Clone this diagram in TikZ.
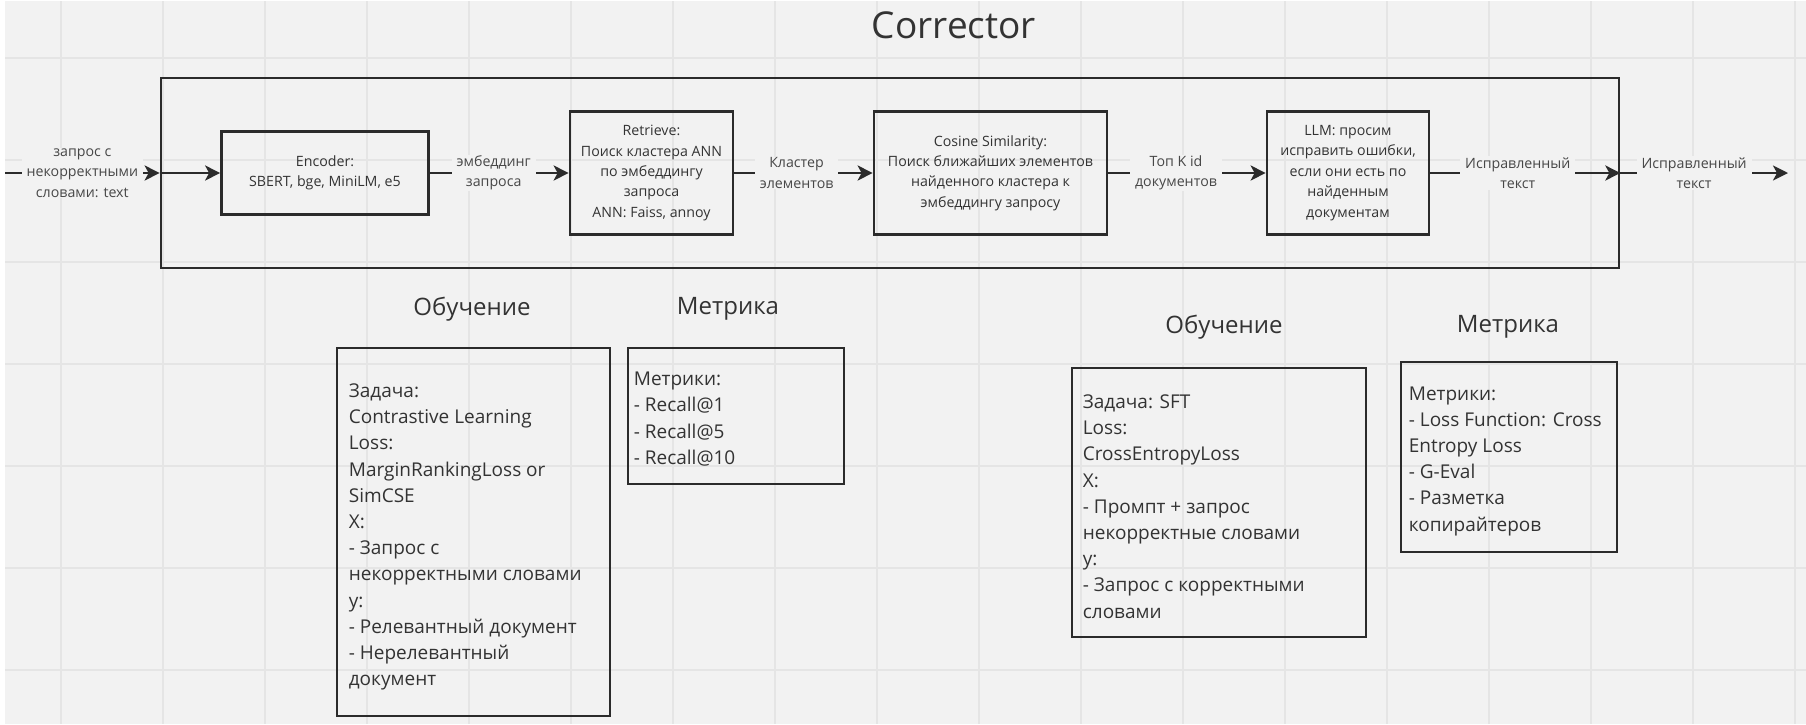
\documentclass[tikz,border=0pt]{standalone}
\usepackage{fontspec}
\setmainfont{Open Sans}
\usetikzlibrary{arrows.meta}
\definecolor{bg}{HTML}{F2F2F2}
\definecolor{gridc}{HTML}{E5E5E5}
\definecolor{ink}{HTML}{2B2B2B}
\definecolor{txt}{HTML}{333333}
\definecolor{lbltxt}{HTML}{474747}
\tikzset{
  pbox/.style={draw=ink, line width=2.7pt, inner sep=0pt, text=txt, align=center,
    font=\fontsize{14.2}{20.4}\selectfont},
  sbox/.style={draw=ink, line width=2.7pt, inner sep=0pt},
  btxt/.style={anchor=west, inner sep=0pt, text=txt, align=left,
    font=\fontsize{19}{26.2}\selectfont},
  ttl/.style={text=txt, inner sep=0pt, font=\fontsize{24}{28}\selectfont},
  arr/.style={draw=ink, line width=2.7pt, -{Stealth[length=15pt,width=15pt,inset=4pt]}},
  lbl/.style={fill=bg, text=lbltxt, align=center, inner xsep=5pt, inner ysep=1pt,
    font=\fontsize{14.2}{20.4}\selectfont}
}
\begin{document}
\begin{tikzpicture}[x=1pt,y=-1pt]
\useasboundingbox (0,0) rectangle (1806,724);
\fill[white] (0,0) rectangle (1806,724);
\fill[bg] (5,1) rectangle (1806,724);
\foreach \gx in {61,163,...,1800} \draw[gridc, line width=1.5pt] (\gx,1) -- (\gx,724);
\foreach \gy in {58,160,...,724} \draw[gridc, line width=1.5pt] (5,\gy) -- (1806,\gy);

% title
\node[text=txt, inner sep=0pt, font=\fontsize{37}{42}\selectfont] (title) at (954,25) {Corrector};

% main frame
\node[sbox, minimum width=1458pt, minimum height=190pt] (main) at (890,173) {};

% pipeline boxes
\node[pbox, minimum width=207pt, minimum height=83pt] (enc) at (325,173) {Encoder:\\SBERT, bge, MiniLM, e5};
\node[pbox, minimum width=163pt, minimum height=123pt] (ret) at (651.5,173) {Retrieve:\\Поиск кластера ANN\\по эмбеддингу\\запроса\\ANN: Faiss, annoy};
\node[pbox, minimum width=233pt, minimum height=123pt] (cos) at (990.5,173) {Cosine Similarity:\\Поиск ближайших элементов\\найденного кластера к\\эмбеддингу запросу};
\node[pbox, minimum width=162pt, minimum height=123pt] (llm) at (1348,173) {LLM: просим\\исправить ошибки,\\если они есть по\\найденным\\документам};

% connectors
\coordinate (in) at (5,173);
\coordinate (out) at (1788,173);
\draw[arr] (in) -- node[lbl, pos=0.5] {запрос с\\некорректными\\словами: text} (main.west);
\draw[arr] (main.west) -- (enc.west);
\draw[arr] (enc.east) -- node[lbl, pos=0.46] {эмбеддинг\\запроса} (ret.west);
\draw[arr] (ret.east) -- node[lbl, pos=0.45] {Кластер\\элементов} (cos.west);
\draw[arr] (cos.east) -- node[lbl, pos=0.43] {Топ K id\\документов} (llm.west);
\draw[arr] (llm.east) -- node[lbl, pos=0.46] {Исправленный\\текст} (main.east);
\draw[arr] (main.east) -- node[lbl, pos=0.44] {Исправленный\\текст} (out);

% bottom section titles
\node[ttl] (tr1) at (472,309) {Обучение};
\node[ttl] (tm1) at (728,309) {Метрика};
\node[ttl] (tr2) at (1224,327) {Обучение};
\node[ttl] (tm2) at (1508,327) {Метрика};

% bottom boxes
\node[sbox, minimum width=273pt, minimum height=368pt] (b1) at (473.5,532) {};
\node[btxt] (t1) at ([xshift=13pt,yshift=-5pt]b1.west) {Задача:\\Contrastive Learning\\Loss:\\MarginRankingLoss or\\SimCSE\\X:\\- Запрос с\\некорректными словами\\y:\\- Релевантный документ\\- Нерелевантный\\документ};

\node[sbox, minimum width=216pt, minimum height=136pt] (b2) at (736,416) {};
\node[btxt] (t2) at ([xshift=7pt,yshift=-3pt]b2.west) {Метрики:\\- Recall@1\\- Recall@5\\- Recall@10};

\node[sbox, minimum width=294pt, minimum height=269pt] (b3) at (1219,502.5) {};
\node[btxt] (t3) at ([xshift=12pt,yshift=-4pt]b3.west) {Задача: SFT\\Loss:\\CrossEntropyLoss\\X:\\- Промпт + запрос\\некорректные словами\\y:\\- Запрос с корректными\\словами};

\node[sbox, minimum width=216pt, minimum height=190pt] (b4) at (1509,457) {};
\node[btxt] (t4) at ([xshift=9pt,yshift=-4pt]b4.west) {Метрики:\\- Loss Function: Cross\\Entropy Loss\\- G-Eval\\- Разметка\\копирайтеров};
\end{tikzpicture}
\end{document}
